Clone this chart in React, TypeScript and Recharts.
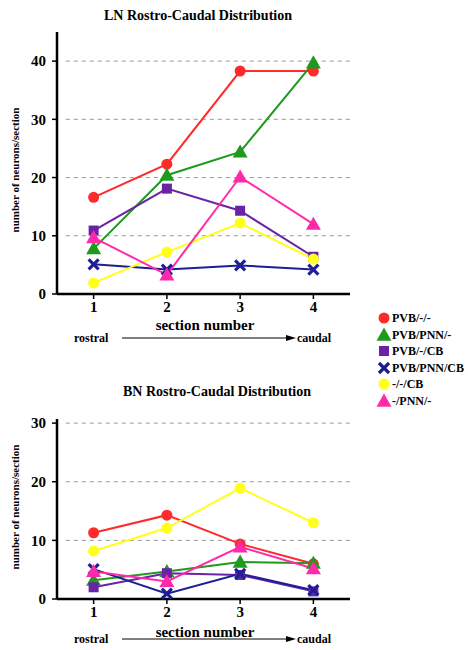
import React from "react";
import { LineChart, Line, XAxis, YAxis, ReferenceLine } from "recharts";

const sections = [1, 2, 3, 4];
const seriesNames = ["PVB/-/-", "PVB/PNN/-", "PVB/-/CB", "PVB/PNN/CB", "-/-/CB", "-/PNN/-"];
const seriesColors = ["#ff2a2a", "#1f9a1f", "#6a22a6", "#1e1e96", "#ffff1a", "#ff2aaa"];
const seriesShapes = ["circle", "triangle", "square", "cross", "circle", "triangle"];

// LN values per series, sections 1..4
const lnPvb = [16.6, 22.3, 38.3, 38.3];
const lnPvbPnn = [7.8, 20.4, 24.4, 39.7];
const lnPvbCb = [10.9, 18.1, 14.3, 6.4];
const lnPvbPnnCb = [5.1, 4.2, 4.9, 4.2];
const lnCb = [1.9, 7.2, 12.2, 6.0];
const lnPnn = [9.7, 3.3, 20.1, 12.0];

// BN values
const bnPvb = [11.3, 14.3, 9.4, 6.0];
const bnPvbPnn = [3.2, 4.7, 6.3, 6.1];
const bnPvbCb = [2.0, 4.4, 4.1, 1.3];
const bnPvbPnnCb = [5.1, 0.9, 4.3, 1.5];
const bnCb = [8.2, 12.1, 18.9, 13.0];
const bnPnn = [4.7, 3.0, 8.9, 5.2];

const lnTicks = [0, 10, 20, 30, 40];
const bnTicks = [0, 10, 20, 30];
const xTicks = [1, 2, 3, 4];

const lnSeries = [lnPvb, lnPvbPnn, lnPvbCb, lnPvbPnnCb, lnCb, lnPnn];
const bnSeries = [bnPvb, bnPvbPnn, bnPvbCb, bnPvbPnnCb, bnCb, bnPnn];

const buildRows = (series: number[][]) =>
  sections.map((s, i) => {
    const row: Record<string, number> = { section: s };
    series.forEach((vals, k) => (row["s" + k] = vals[i]));
    return row;
  });

const FONT = "'Liberation Serif', 'DejaVu Serif', serif";

function Marker({ shape, color, cx, cy }: { shape: string; color: string; cx: number; cy: number }) {
  if (shape === "triangle") {
    const s = 7.5;
    return <polygon points={`${cx},${cy - s} ${cx + s},${cy + s * 0.75} ${cx - s},${cy + s * 0.75}`} fill={color} />;
  }
  if (shape === "square") {
    return <rect x={cx - 5} y={cy - 5} width={10} height={10} fill={color} />;
  }
  if (shape === "cross") {
    return (
      <g stroke={color} strokeWidth={3.2} strokeLinecap="butt">
        <line x1={cx - 5} y1={cy - 5} x2={cx + 5} y2={cy + 5} />
        <line x1={cx - 5} y1={cy + 5} x2={cx + 5} y2={cy - 5} />
      </g>
    );
  }
  return <circle cx={cx} cy={cy} r={5.5} fill={color} />;
}

function Panel({ rows, max, ticks, height, top, marginTop, xAxisH }: { rows: any[]; max: number; ticks: number[]; height: number; top: number; marginTop: number; xAxisH: number }) {
  return (
    <div style={{ position: "absolute", left: 0, top }}>
      <LineChart width={360} height={height} data={rows} margin={{ top: marginTop, right: 10, left: 0, bottom: 0 }}>
        {ticks.filter((t) => t > 0).map((t) => (
          <ReferenceLine
            key={t}
            segment={[{ x: 0.62, y: t }, { x: 4.5, y: t }]}
            stroke="#9a9a9a"
            strokeDasharray="4 4"
            strokeWidth={1}
          />
        ))}
        <XAxis
          dataKey="section"
          type="number"
          domain={[0.5, 4.5]}
          ticks={xTicks}
          height={xAxisH}
          axisLine={{ stroke: "#000", strokeWidth: 2.5 }}
          tickLine={{ stroke: "#000", strokeWidth: 1.5 }}
          tickSize={5}
          tick={{ fill: "#000", fontSize: 15, fontWeight: 700, fontFamily: FONT }}
        />
        <YAxis
          type="number"
          domain={[0, max]}
          ticks={ticks}
          width={57}
          axisLine={{ stroke: "#000", strokeWidth: 2.5 }}
          tickLine={{ stroke: "#000", strokeWidth: 1.5 }}
          tickSize={5}
          tickMargin={6}
          tick={{ fill: "#000", fontSize: 15, fontWeight: 700, fontFamily: FONT }}
        />
        {seriesNames.map((name, k) => (
          <Line
            key={name}
            dataKey={"s" + k}
            name={name}
            stroke={seriesColors[k]}
            strokeWidth={2}
            isAnimationActive={false}
            dot={(p: any) => <Marker key={name + p.index} shape={seriesShapes[k]} color={seriesColors[k]} cx={p.cx} cy={p.cy} />}
          />
        ))}
      </LineChart>
    </div>
  );
}

function Text({ x, y, size, children, center }: { x: number; y: number; size: number; children: React.ReactNode; center?: boolean }) {
  return (
    <div
      style={{
        position: "absolute",
        left: x,
        top: y - size / 2,
        fontSize: size,
        lineHeight: 1,
        fontWeight: 700,
        fontFamily: FONT,
        whiteSpace: "nowrap",
        transform: center ? "translateX(-50%)" : undefined,
      }}
    >
      {children}
    </div>
  );
}

function AxisFooter({ y, labelY }: { y: number; labelY: number }) {
  return (
    <>
      <Text x={205} y={labelY} size={15} center>section number</Text>
      <Text x={74} y={y} size={12}>rostral</Text>
      <Text x={297} y={y} size={12}>caudal</Text>
      <svg style={{ position: "absolute", left: 120, top: y - 5 }} width={178} height={10}>
        <line x1={2} y1={5} x2={168} y2={5} stroke="#000" strokeWidth={1} />
        <polygon points="176,5 166,2 166,8" fill="#000" />
      </svg>
    </>
  );
}

function YLabel({ y }: { y: number }) {
  return (
    <div
      style={{
        position: "absolute",
        left: 15,
        top: y,
        fontSize: 11,
        lineHeight: 1,
        fontWeight: 700,
        fontFamily: FONT,
        whiteSpace: "nowrap",
        transform: "translate(-50%, -50%) rotate(-90deg)",
      }}
    >
      number of neurons/section
    </div>
  );
}

function LegendBox() {
  return (
    <>
      {seriesNames.map((name, k) => {
        const cy = 318 + k * 16.5;
        return (
          <div key={name}>
            <svg style={{ position: "absolute", left: 376, top: cy - 8 }} width={16} height={16}>
              <Marker shape={seriesShapes[k]} color={seriesColors[k]} cx={8} cy={8} />
            </svg>
            <Text x={392} y={cy} size={12}>{name}</Text>
          </div>
        );
      })}
    </>
  );
}

export default function App() {
  return (
    <div style={{ position: "absolute", left: 0, top: 0, width: 468, height: 650, background: "#fff", overflow: "hidden" }}>
      <Text x={198} y={16} size={14} center>LN Rostro-Caudal Distribution</Text>
      <Panel rows={buildRows(lnSeries)} max={45} ticks={lnTicks} height={350} top={0} marginTop={32} xAxisH={56} />
      <YLabel y={170} />
      <AxisFooter y={338} labelY={325} />

      <Text x={217} y={392} size={14} center>BN Rostro-Caudal Distribution</Text>
      <Panel rows={buildRows(bnSeries)} max={30.7} ticks={bnTicks} height={290} top={360} marginTop={59} xAxisH={51} />
      <YLabel y={507} />
      <AxisFooter y={639} labelY={632} />

      <LegendBox />
    </div>
  );
}
